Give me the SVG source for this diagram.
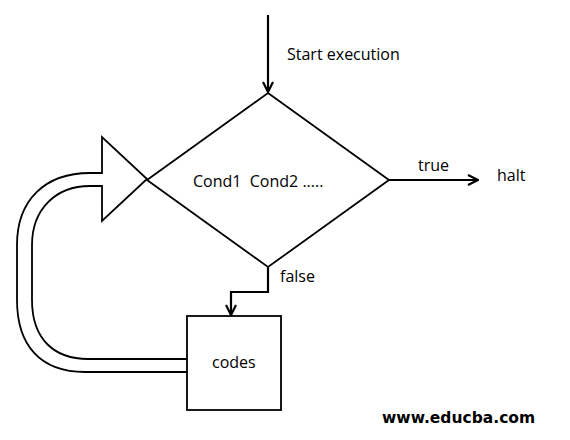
<svg xmlns="http://www.w3.org/2000/svg" width="570" height="440" viewBox="0 0 570 440">
<defs>
<style>
.ln{fill:none;stroke:#000;stroke-width:2.2}
.sh{fill:#fff;stroke:#000;stroke-width:1.8}
.t{font-family:"Open Sans","Liberation Sans",sans-serif;font-size:16px;fill:#000;white-space:pre}
.w{font-family:"DejaVu Sans",Verdana,sans-serif;font-weight:bold;font-size:15.5px;fill:#000}
</style>
<marker id="ah" viewBox="0 0 12 12" refX="11" refY="6" markerWidth="12" markerHeight="12" markerUnits="userSpaceOnUse" orient="auto">
<path d="M1,1 L11,6 L1,11" fill="none" stroke="#000" stroke-width="2.2"/>
</marker>
</defs>
<g id="connectors">
<line class="ln" x1="268" y1="15" x2="268" y2="92" marker-end="url(#ah)"/>
<line class="ln" x1="389" y1="180" x2="478" y2="180" stroke-width="3" marker-end="url(#ah)"/>
<polyline class="ln" points="268,267 268,292 231,292 231,315" marker-end="url(#ah)"/>
<g id="loop">
<path class="sh" d="M187,372 L85,372 C40,372 17,345 17,300 L17,245 C17,200 45,173 90,173 L102,173 L102,137 L147,179 L102,221 L102,186 L90,186 C55,186 32,210 32,245 L32,300 C32,340 55,359 88,359 L187,359"/>
</g>
</g>
<g id="decision">
<polygon class="sh" points="268,93 389,180 268,267 147,180"/>
<text class="t" x="193" y="187" xml:space="preserve">Cond1  Cond2 .....</text>
</g>
<g id="codes">
<rect class="sh" x="187" y="316" width="94" height="94"/>
<text class="t" x="212" y="368">codes</text>
</g>
<g id="labels">
<text class="t" x="287" y="60">Start execution</text>
<text class="t" x="418" y="171">true</text>
<text class="t" x="497" y="181">halt</text>
<text class="t" x="280" y="282">false</text>
</g>
<g id="watermark">
<text class="w" x="382" y="423">www.educba.com</text>
</g>
</svg>
